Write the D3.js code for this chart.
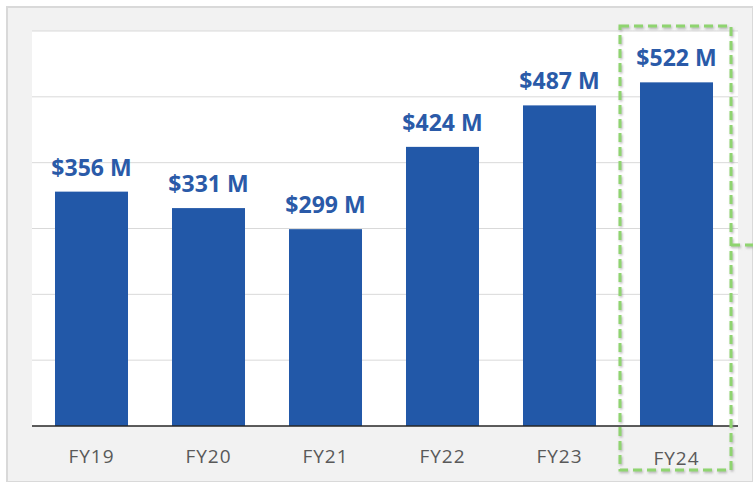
<!DOCTYPE html>
<html>
<head>
<meta charset="utf-8">
<script src="https://cdn.jsdelivr.net/npm/d3@7"></script>
<style>
  body { margin: 0; background: #fff; }
  svg { display: block; }
</style>
</head>
<body>
<script>
const years = ['FY19', 'FY20', 'FY21', 'FY22', 'FY23', 'FY24'];
const revenue = [356, 331, 299, 424, 487, 522];
const yTicks = [0, 100, 200, 300, 400, 500, 600];
const highlightYear = 'FY24';

const width = 753;
const height = 482;

const svg = d3.create('svg')
  .attr('width', width)
  .attr('height', height)
  .attr('viewBox', [0, 0, width, height]);

const defs = svg.append('defs');
defs.append('filter')
  .attr('id', 'shadow')
  .attr('x', '-10%').attr('y', '-10%').attr('width', '120%').attr('height', '120%')
  .append('feDropShadow')
  .attr('dx', 1).attr('dy', 1.5)
  .attr('stdDeviation', 1.2)
  .attr('flood-color', '#888')
  .attr('flood-opacity', 0.6);

const x = d3.scaleBand()
  .domain(years)
  .range([33, 735])
  .paddingInner(0.376)
  .paddingOuter(0.188);

const y = d3.scaleLinear()
  .domain([0, 600])
  .range([426, 31]);

// outer frame
svg.append('rect')
  .attr('x', 7).attr('y', 7)
  .attr('width', width - 7).attr('height', height - 7)
  .attr('fill', '#f2f2f2')
  .attr('stroke', '#d9d9d9')
  .attr('stroke-width', 2);

// plot area
svg.append('rect')
  .attr('x', 32).attr('y', y(600))
  .attr('width', 706).attr('height', y(0) - y(600))
  .attr('fill', '#fff');

// gridlines
svg.append('g')
  .selectAll('line')
  .data(yTicks.filter(d => d > 0))
  .join('line')
  .attr('x1', 32).attr('x2', 738)
  .attr('y1', d => y(d)).attr('y2', d => y(d))
  .attr('stroke', '#d9d9d9')
  .attr('stroke-width', 1);

// bars
svg.append('g')
  .selectAll('rect')
  .data(years)
  .join('rect')
  .attr('x', d => x(d))
  .attr('y', (d, i) => y(revenue[i]))
  .attr('width', x.bandwidth())
  .attr('height', (d, i) => y(0) - y(revenue[i]))
  .attr('fill', '#2258a8');

// baseline
svg.append('line')
  .attr('x1', 32).attr('x2', 738)
  .attr('y1', y(0)).attr('y2', y(0))
  .attr('stroke', '#262626')
  .attr('stroke-width', 1.5);

// value labels
svg.append('g')
  .selectAll('text')
  .data(years)
  .join('text')
  .attr('x', d => x(d) + x.bandwidth() / 2)
  .attr('y', (d, i) => y(revenue[i]) - 16)
  .attr('text-anchor', 'middle')
  .attr('font-family', '"Open Sans", sans-serif')
  .attr('font-weight', 'bold')
  .attr('font-size', 23)
  .attr('fill', '#2a5aa8')
  .text((d, i) => `$${revenue[i]} M`);

// category labels
svg.append('g')
  .selectAll('text')
  .data(years)
  .join('text')
  .attr('x', d => x(d) + x.bandwidth() / 2)
  .attr('y', d => d === highlightYear ? 465 : 463)
  .attr('text-anchor', 'middle')
  .attr('font-family', '"Open Sans", sans-serif')
  .attr('font-size', 19)
  .attr('letter-spacing', 1)
  .attr('fill', '#595959')
  .text(d => d);

// highlight box around last year
const hx0 = x(highlightYear) - 20;
const hx1 = x(highlightYear) + x.bandwidth() + 18;
const hl = svg.append('g')
  .attr('filter', 'url(#shadow)')
  .attr('fill', 'none')
  .attr('stroke', '#8fd46f')
  .attr('stroke-width', 3)
  .attr('stroke-dasharray', '9,5');

hl.append('rect')
  .attr('x', hx0).attr('y', 26)
  .attr('width', hx1 - hx0).attr('height', 470 - 26);

hl.append('line')
  .attr('x1', hx1).attr('x2', width)
  .attr('y1', 245).attr('y2', 245);

document.body.appendChild(svg.node());
</script>
</body>
</html>
